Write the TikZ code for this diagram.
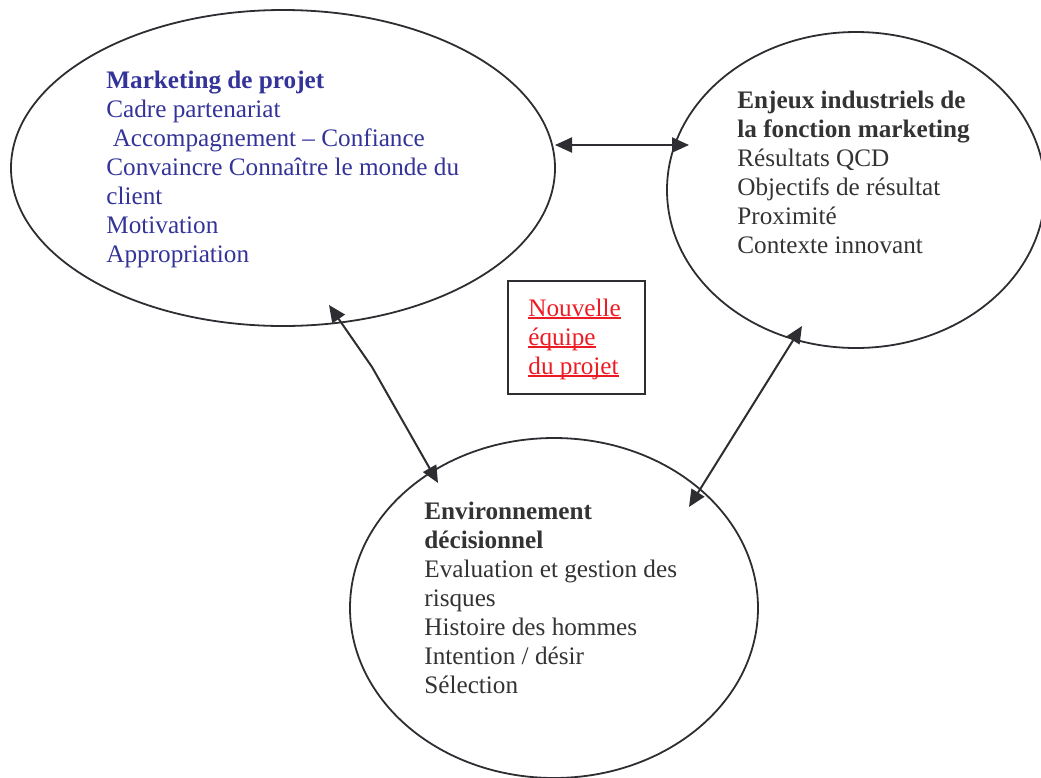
\documentclass[tikz,border=0pt]{standalone}
\usepackage{fontspec}
\setmainfont{Liberation Serif}
\usetikzlibrary{shapes.geometric, arrows.meta}
\definecolor{linegray}{RGB}{45,45,50}
\definecolor{textgray}{RGB}{51,51,51}
\definecolor{textblue}{RGB}{51,51,153}
\definecolor{textred}{RGB}{237,28,36}
\newcommand{\undl}[1]{\setbox0\hbox{#1}\rlap{\rule[-1.4pt]{\wd0}{0.75pt}}\box0}

\begin{document}
\begin{tikzpicture}[x=0.5pt, y=-0.5pt]
  \tikzstyle{bubble}=[ellipse, draw=linegray, line width=0.9pt, inner sep=0pt]
  % anchor at the baseline of the last line
  \tikzstyle{bubbletext}=[anchor=base west, align=left, inner sep=0pt, font=\fontsize{12.6}{14.5}\selectfont]
  \tikzstyle{link}=[{Triangle[length=8.5pt,width=7.5pt]}-{Triangle[length=8.5pt,width=7.5pt]}, draw=linegray, line width=1pt]
  \useasboundingbox (0,0) rectangle (1041,778);

  % Node definitions
  \node[bubble, minimum width=272pt, minimum height=158pt] (mkt) at (283,168) {};
  \node[bubble, minimum width=189pt, minimum height=158pt] (enj) at (856,190) {};
  \node[bubble, minimum width=204pt, minimum height=170pt] (env) at (554,608) {};
  \node[draw=linegray, line width=0.9pt, minimum width=68.5pt, minimum height=56.5pt, inner sep=0pt] (team) at (576.5,337.5) {};

  \node[bubbletext, text=textblue] (mkttxt) at (106,262) {\textbf{Marketing de projet}\\Cadre partenariat\\\hspace*{3.2pt}Accompagnement – Confiance\\Convaincre Connaître le monde du\\client\\Motivation\\Appropriation};
  \node[bubbletext, text=textgray] (enjtxt) at (737,253) {\textbf{Enjeux industriels de}\\\textbf{la fonction marketing}\\Résultats QCD\\Objectifs de résultat\\Proximité\\Contexte innovant};
  \node[bubbletext, text=textgray] (envtxt) at (424,693) {\textbf{Environnement}\\\textbf{décisionnel}\\Evaluation et gestion des\\risques\\Histoire des hommes\\Intention / désir\\Sélection};
  \node[bubbletext, text=textred] (teamtxt) at (528,374) {\undl{Nouvelle}\\\undl{équipe}\\\undl{du projet}};

  % Edge definitions
  \coordinate (mktE) at (555,145);
  \coordinate (enjW) at (689,145);
  \coordinate (mktS) at (329,305);
  \coordinate (bend) at (372,367);
  \coordinate (envNW) at (438,483);
  \coordinate (enjS) at (802,326);
  \coordinate (envNE) at (689,507);

  \draw[link] (mktE) -- (enjW);
  \draw[link] (mktS) -- (bend) -- (envNW);
  \draw[link] (enjS) -- (envNE);
\end{tikzpicture}
\end{document}
